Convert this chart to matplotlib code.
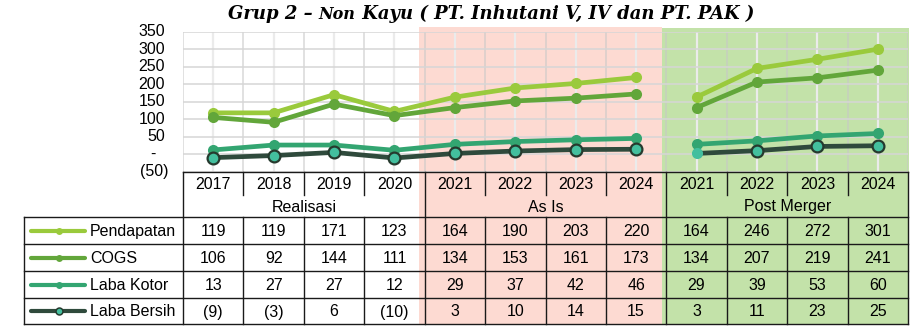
import matplotlib
matplotlib.use("Agg")
import matplotlib.pyplot as plt
from matplotlib.lines import Line2D
from matplotlib.patches import Rectangle
from matplotlib.transforms import Affine2D, blended_transform_factory

# ---- data -------------------------------------------------------------
years = ["2017", "2018", "2019", "2020",
         "2021", "2022", "2023", "2024",
         "2021", "2022", "2023", "2024"]
groups = ["Realisasi", "As Is", "Post Merger"]
group_size = 4

series_names = ["Pendapatan", "COGS", "Laba Kotor", "Laba Bersih"]
pendapatan = [119, 119, 171, 123, 164, 190, 203, 220, 164, 246, 272, 301]
cogs = [106, 92, 144, 111, 134, 153, 161, 173, 134, 207, 219, 241]
laba_kotor = [13, 27, 27, 12, 29, 37, 42, 46, 29, 39, 53, 60]
laba_bersih = [-9, -3, 6, -10, 3, 10, 14, 15, 3, 11, 23, 25]
series_values = [pendapatan, cogs, laba_kotor, laba_bersih]

y_ticks = [-50, 0, 50, 100, 150, 200, 250, 300, 350]

# ---- style ------------------------------------------------------------
W, H = 922, 326
FONT = "Liberation Sans"
FS = 11.5
line_colors = ["#9ACA3C", "#62A63A", "#33A571", "#2F4A3C"]
face_colors = ["#9ACA3C", "#62A63A", "#33A571", "#43BF9E"]
edge_colors = ["#9ACA3C", "#62A63A", "#33A571", "#263A2E"]
pink = "#FDDAD2"
green = "#C3E2A9"
border = "#1A1A1A"


def fmt(v):
    return f"({abs(v)})" if v < 0 else str(v)


fig = plt.figure(figsize=(W / 100, H / 100), dpi=100)
px = Affine2D().scale(1 / W, -1 / H).translate(0, 1) + fig.transFigure

# chart area (pixel box: left 183, right 908, top 32, bottom 172)
ax = fig.add_axes([183 / W, 1 - 172 / H, 725 / W, 140 / H])
ax.set_facecolor("none")
n = len(years)
xs = list(range(n))
ax.set_xlim(-0.5, n - 0.5)
ax.set_ylim(y_ticks[0], y_ticks[-1])
for s in ax.spines.values():
    s.set_visible(False)

# gridlines
ax.set_yticks(y_ticks)
ax.set_yticklabels([])
ax.set_xticks([i - 0.5 for i in range(n + 1)])
ax.set_xticks(xs, minor=True)
ax.set_xticklabels([])
ax.tick_params(which="both", length=0)
ax.grid(axis="y", which="major", color="#D6D6D6", lw=1.1)
ax.grid(axis="x", which="major", color="#C8C8C8", lw=1.1, alpha=0.7)
ax.grid(axis="x", which="minor", color="#EBEBEB", lw=1.6)
ax.set_axisbelow(True)

# y tick labels in accounting style
tx = blended_transform_factory(px, ax.transData)
for v in y_ticks:
    if v == 0:
        fig.add_artist(plt.Text(153, v, "-", transform=tx, ha="center",
                                va="center", fontsize=FS, family=FONT))
    elif v < 0:
        fig.add_artist(plt.Text(168, v, fmt(v), transform=tx, ha="right",
                                va="center", fontsize=FS, family=FONT))
    else:
        fig.add_artist(plt.Text(165, v, fmt(v), transform=tx, ha="right",
                                va="center", fontsize=FS, family=FONT))

# lines: realisasi + as-is continuous, post merger separate
for k, vals in enumerate(series_values):
    mew = 1.6 if k == 3 else 0
    ms = 8.5 if k == 3 else 8
    seg1 = slice(0, 2 * group_size)
    seg2 = slice(2 * group_size, n)
    ax.plot(xs[seg1], vals[seg1], color=line_colors[k], lw=3.4, marker="o",
            ms=ms, mfc=face_colors[k], mec=edge_colors[k], mew=mew,
            zorder=3 + k, clip_on=False, solid_capstyle="round")
    ax.plot(xs[seg2], vals[seg2], color=line_colors[k], lw=3.4, marker="o",
            ms=ms, mfc=face_colors[k], mec=edge_colors[k], mew=mew,
            markevery=[1, 2, 3], zorder=3 + k, clip_on=False,
            solid_capstyle="round")
    ax.plot(xs[2 * group_size], vals[2 * group_size], marker="o", ls="none",
            ms=8, mfc=face_colors[k], mec="none", zorder=3 + k, clip_on=False)

# shaded scenario bands behind chart and table
bt = blended_transform_factory(ax.transData, px)
fig.add_artist(Rectangle((3.41, 27), 7.43 - 3.41, 298, transform=bt,
                         facecolor=pink, edgecolor="none", zorder=-1))
fig.add_artist(Rectangle((7.43, 28), 11.52 - 7.43, 297, transform=bt,
                         facecolor=green, edgecolor="none", zorder=-1))

# ---- data table -------------------------------------------------------
left_edge = -0.5 - (183 - 24) / (725 / n)
row_year = (172, 195)
row_group = (195, 217)
row_edges = [217, 244, 271, 298, 324]


def hline(x0, x1, y):
    fig.add_artist(Line2D([x0, x1], [y, y], transform=bt, color=border,
                          lw=1.0, zorder=5))


def vline(x, y0, y1):
    fig.add_artist(Line2D([x, x], [y0, y1], transform=bt, color=border,
                          lw=1.0, zorder=5))


hline(-0.5, n - 0.5, row_year[0])
for y in row_edges:
    hline(left_edge, n - 0.5, y)
vline(left_edge, row_edges[0], row_edges[-1])
for i in range(n + 1):
    xb = i - 0.5
    if i % group_size == 0:
        vline(xb, row_year[0], row_edges[-1])
    else:
        vline(xb, row_year[0], row_year[1])
        vline(xb, row_edges[0], row_edges[-1])

for i, yr in enumerate(years):
    fig.add_artist(plt.Text(i, sum(row_year) / 2 + 1, yr, transform=bt,
                            ha="center", va="center", fontsize=FS,
                            family=FONT, zorder=6))
for g, name in enumerate(groups):
    cx = g * group_size + (group_size - 1) / 2
    fig.add_artist(plt.Text(cx, sum(row_group) / 2 + 1, name, transform=bt,
                            ha="center", va="center", fontsize=FS,
                            family=FONT, zorder=6))

for r, (name, vals) in enumerate(zip(series_names, series_values)):
    yc = (row_edges[r] + row_edges[r + 1]) / 2 + 1
    for i, v in enumerate(vals):
        fig.add_artist(plt.Text(i, yc, fmt(v), transform=bt, ha="center",
                                va="center", fontsize=FS, family=FONT,
                                zorder=6))
    # legend key
    fig.add_artist(Line2D([31, 85], [yc - 1, yc - 1], transform=px,
                          color=line_colors[r], lw=3.0, zorder=6,
                          solid_capstyle="round"))
    fig.add_artist(Line2D([59], [yc - 1], transform=px, marker="o",
                          ms=5 if r == 3 else 5, mfc=face_colors[r],
                          mec=edge_colors[r], mew=1.1 if r == 3 else 0,
                          ls="none", zorder=7))
    fig.add_artist(plt.Text(90, yc, name, transform=px, ha="left",
                            va="center", fontsize=FS, family=FONT, zorder=6))

# ---- title ------------------------------------------------------------
tfont = dict(family="DejaVu Serif", weight="bold", style="italic")
t1 = fig.text(228 / W, 1 - 19 / H, "Grup 2 \u2013 ", fontsize=13,
              ha="left", va="baseline", **tfont)
t2 = fig.text(0, 0, "Non", fontsize=11.5, ha="left", va="baseline", **tfont)
t3 = fig.text(0, 0, " Kayu ( PT. Inhutani V, IV dan PT. PAK )", fontsize=13,
              ha="left", va="baseline", **tfont)


def chain():
    r = fig.canvas.get_renderer()
    b1 = t1.get_window_extent(r)
    t2.set_position((b1.x1 / fig.bbox.width, 1 - 19 / H))
    b2 = t2.get_window_extent(r)
    t3.set_position((b2.x1 / fig.bbox.width, 1 - 19 / H))


fig.canvas.draw()
chain()

fig.savefig("out.png", dpi=100)
